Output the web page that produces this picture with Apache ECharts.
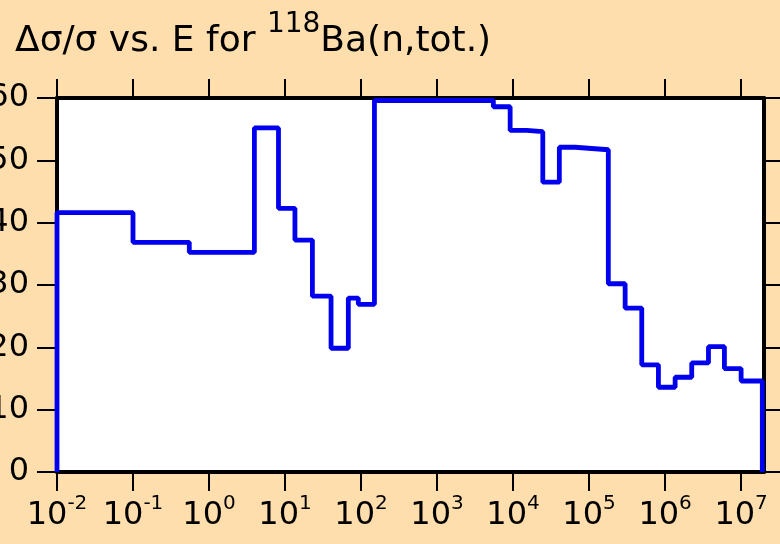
<!DOCTYPE html>
<html><head><meta charset="utf-8">
<script src="https://cdn.jsdelivr.net/npm/echarts@6/dist/echarts.min.js"></script>
<style>html,body{margin:0;padding:0;background:#FFDEAD}#c{width:780px;height:544px}</style>
</head><body><div id="c"></div><script>
// Bin edges (energy, eV) and relative uncertainty (%) for each bin
const binEdges = [0.01, 0.1, 0.55, 3.95, 8.2, 13.5, 22.9, 40.3, 68, 92, 150, 5500, 9150, 15100, 24600, 40600, 65500, 108600, 179000, 298000, 493000, 817000, 1355000, 2240000, 3720000, 6030000, 1.0e7, 1.9e7];
const binValues = [41.6, 36.85, 35.25, 55.2, 42.3, 37.2, 28.2, 19.85, 27.9, 26.9, 59.6, 58.6, 54.8, 54.6, 46.5, 52.1, 51.9, 51.7, 30.2, 26.3, 17.2, 13.6, 15.2, 17.5, 20.1, 16.6, 14.6];
const xTickValues = [0.01, 0.1, 1, 10, 100, 1000, 1e4, 1e5, 1e6, 1e7];
const xRange = [0.01, 2e7];
const yRange = [0, 60];
const yStep = 10;
const titleMain = 'Δσ/σ vs. E for ';
const titleSup = '118';
const titleTail = 'Ba(n,tot.)';

const FONT = 'DejaVu Sans';
const pts = [[binEdges[0], 0]];
for (let i = 0; i < binValues.length; i++) pts.push([binEdges[i], binValues[i]]);
const last = binEdges[binEdges.length - 1];
pts.push([last, binValues[binValues.length - 1]]);
pts.push([last, 0]);

const axisLineStyle = {color: '#000', width: 4};
const tickStyle = {color: '#000', width: 2};
function xLabel(v) {
  const e = Math.log10(v);
  const r = Math.round(e);
  if (Math.abs(e - r) > 1e-6) return '';
  return '{b|10}{s|' + (r < 0 ? '-' + (-r) : r) + '}';
}
const xAxisBase = {
  type: 'log', logBase: 10, min: xRange[0], max: xRange[1], splitNumber: 10,
  axisLine: {show: true, onZero: false, lineStyle: axisLineStyle},
  axisTick: {show: true, inside: false, length: 19, lineStyle: tickStyle, customValues: xTickValues},
  splitLine: {show: false}, minorTick: {show: false}, minorSplitLine: {show: false}
};
const yAxisBase = {
  type: 'value', min: yRange[0], max: yRange[1], interval: yStep,
  axisLine: {show: true, onZero: false, lineStyle: axisLineStyle},
  axisTick: {show: true, inside: false, length: 20, lineStyle: tickStyle},
  splitLine: {show: false}
};
const chart = echarts.init(document.getElementById('c'), null, {renderer: 'canvas'});
chart.setOption({
  animation: false,
  backgroundColor: '#FFDEAD',
  title: {
    text: '{a|' + titleMain + '}{s|' + titleSup + '}{a|' + titleTail + '}',
    left: 15, top: 11, padding: 0,
    textStyle: {fontSize: 36, fontWeight: 'normal', fontFamily: FONT, color: '#000', rich: {
      a: {fontSize: 36, lineHeight: 62, fontWeight: 'normal', fontFamily: FONT, color: '#000'},
      s: {fontSize: 28, lineHeight: 28, verticalAlign: 'top', fontWeight: 'normal', fontFamily: FONT, color: '#000'}
    }}
  },
  grid: {left: 57, right: 16, top: 98, bottom: 72, containLabel: false, outerBoundsMode: 'none',
    show: true, backgroundColor: '#fff', borderWidth: 0},
  xAxis: [
    Object.assign({}, xAxisBase, {position: 'bottom',
      axisLabel: {show: true, customValues: xTickValues, margin: 22, formatter: xLabel,
        rich: {
          b: {fontSize: 32, lineHeight: 44, fontFamily: FONT, color: '#000'},
          s: {fontSize: 20, lineHeight: 20, verticalAlign: 'top', fontFamily: FONT, color: '#000'}
        }}}),
    Object.assign({}, xAxisBase, {position: 'top', axisLabel: {show: false}})
  ],
  yAxis: [
    Object.assign({}, yAxisBase, {position: 'left',
      axisLabel: {show: true, fontSize: 32, fontFamily: FONT, color: '#000', margin: 28}}),
    Object.assign({}, yAxisBase, {position: 'right', axisLabel: {show: false}})
  ],
  series: [{
    type: 'line', step: 'end', data: pts, xAxisIndex: 0, yAxisIndex: 0,
    showSymbol: false, symbol: 'none', clip: true,
    lineStyle: {color: '#0000ee', width: 4.8}
  }]
});
</script></body></html>
